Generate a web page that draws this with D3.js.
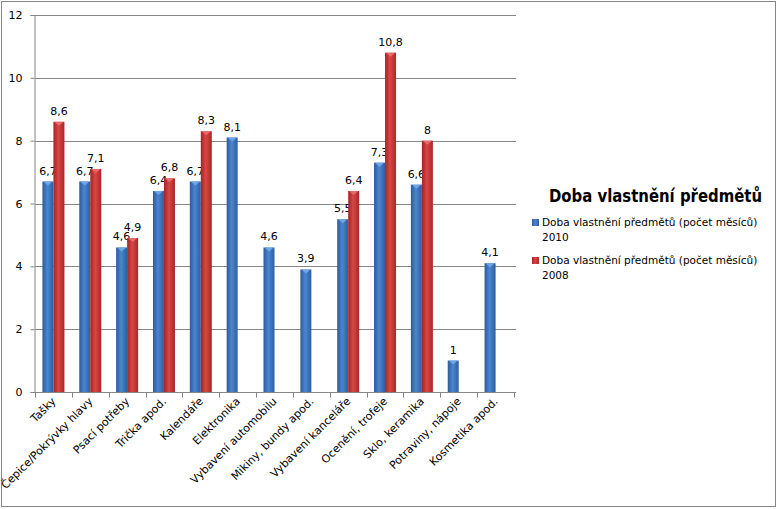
<!DOCTYPE html>
<html>
<head>
<meta charset="utf-8">
<script src="https://cdn.jsdelivr.net/npm/d3@7"></script>
<style>
  body { margin: 0; background: #fff; }
  text { font-family: 'DejaVu Sans', Verdana, sans-serif; }
</style>
</head>
<body>
<div id="chart"></div>
<script>
const categories = ['Tašky', 'Čepice/Pokrývky hlavy', 'Psací potřeby', 'Trička apod.', 'Kalendáře',
  'Elektronika', 'Vybavení automobilu', 'Mikiny, bundy apod.', 'Vybavení kanceláře',
  'Ocenění, trofeje', 'Sklo, keramika', 'Potraviny, nápoje', 'Kosmetika apod.'];
const values2010 = [6.7, 6.7, 4.6, 6.4, 6.7, 8.1, 4.6, 3.9, 5.5, 7.3, 6.6, 1, 4.1];
const values2008 = [8.6, 7.1, 4.9, 6.8, 8.3, null, null, null, 6.4, 10.8, 8, null, null];
const seriesNames = ['Doba vlastnění předmětů (počet měsíců) 2010', 'Doba vlastnění předmětů (počet měsíců) 2008'];
const yTicks = [0, 2, 4, 6, 8, 10, 12];
const legendTitle = 'Doba vlastnění předmětů';

const W = 778, H = 509;
const margin = { top: 15, left: 35, right: 264, bottom: 117 };
const width = W - margin.left - margin.right;
const height = H - margin.top - margin.bottom;

const $svg = d3.select('#chart').append('svg')
  .attr('width', W)
  .attr('height', H);

const defs = $svg.append('defs');
function grad(id, dark, mid, light) {
  const g = defs.append('linearGradient').attr('id', id)
    .attr('x1', 0).attr('x2', 1).attr('y1', 0).attr('y2', 0);
  g.append('stop').attr('offset', '0%').attr('stop-color', dark);
  g.append('stop').attr('offset', '45%').attr('stop-color', light);
  g.append('stop').attr('offset', '100%').attr('stop-color', mid);
}
grad('g2010', '#2d5a9c', '#2f5e9f', '#4a86d0');
grad('g2008', '#a52424', '#a82828', '#d94646');

$svg.append('rect')
  .attr('x', 1.5).attr('y', 1.5)
  .attr('width', W - 4).attr('height', H - 4)
  .attr('fill', '#fff')
  .attr('stroke', '#868686');

const $plot = $svg.append('g')
  .attr('transform', `translate(${margin.left}, ${margin.top})`);

const x = d3.scaleBand().domain(categories).range([0, width]);
const y = d3.scaleLinear().domain([0, 12]).range([height, 0]);

const barW = 11;
const offset = (x.bandwidth() - 2 * barW) / 2;

// grid
$plot.append('g')
  .selectAll('line')
  .data(yTicks.filter(d => d > 0))
  .enter().append('line')
  .attr('x1', 0).attr('x2', width + 2)
  .attr('y1', d => Math.round(y(d)) + 0.5)
  .attr('y2', d => Math.round(y(d)) + 0.5)
  .attr('stroke', '#868686');

// y axis
const yAxis = d3.axisLeft(y).tickValues(yTicks).tickSize(4).tickPadding(8);
$plot.append('g')
  .attr('class', 'axis y')
  .attr('transform', 'translate(-0.5, 0)')
  .call(yAxis)
  .call(g => g.selectAll('.tick text').attr('font-size', 11).attr('fill', '#000')
    .attr('font-family', 'DejaVu Sans'))
  .call(g => g.selectAll('line, path').attr('stroke', '#868686'));

// x axis
const xAxis = d3.axisBottom(x).tickSize(0).tickFormat('');
const $xa = $plot.append('g')
  .attr('class', 'axis x')
  .attr('transform', `translate(0, ${Math.round(height) + 0.5})`)
  .call(xAxis);
$xa.select('.domain').attr('stroke', '#868686').attr('d', `M-4,0H${width + 2}`);
$xa.selectAll('.boundary')
  .data(d3.range(categories.length + 1))
  .enter().append('line')
  .attr('x1', i => Math.round(i * x.step()) + 0.5)
  .attr('x2', i => Math.round(i * x.step()) + 0.5)
  .attr('y1', 0).attr('y2', 5)
  .attr('stroke', '#868686');

$plot.append('g')
  .selectAll('text')
  .data(categories)
  .enter().append('text')
  .attr('transform', d => `translate(${x(d) + x.bandwidth() / 2 + 3}, ${height + 10}) rotate(-45)`)
  .attr('text-anchor', 'end')
  .attr('font-size', 11)
  .attr('fill', '#000')
  .text(d => d);

// bars
const series = [
  { key: '2010', values: values2010, fill: 'url(#g2010)', cap: '#6fa6e6', idx: 0 },
  { key: '2008', values: values2008, fill: 'url(#g2008)', cap: '#ea6b6b', idx: 1 }
];

const fmt = v => String(v).replace('.', ',');

series.forEach(s => {
  const data = categories.map((c, i) => ({ c, v: s.values[i] })).filter(d => d.v != null);
  const $g = $plot.append('g').attr('class', 'series-' + s.key);
  const bx = d => x(d.c) + offset + s.idx * barW;

  $g.selectAll('rect')
    .data(data)
    .enter().append('rect')
    .attr('x', bx)
    .attr('y', d => y(d.v))
    .attr('width', barW)
    .attr('height', d => height - y(d.v))
    .attr('fill', s.fill);

  $g.selectAll('path.cap')
    .data(data)
    .enter().append('path')
    .attr('class', 'cap')
    .attr('d', d => `M${bx(d) + 1},${y(d.v)}H${bx(d) + barW - 1}L${bx(d) + barW / 2},${y(d.v) + 4}Z`)
    .attr('fill', s.cap);

  $g.selectAll('text')
    .data(data)
    .enter().append('text')
    .attr('x', d => bx(d) + barW / 2)
    .attr('y', d => y(d.v) - 7)
    .attr('text-anchor', 'middle')
    .attr('font-size', 11)
    .attr('fill', '#000')
    .text(d => fmt(d.v));
});

// legend
const $legend = $svg.append('g').attr('transform', 'translate(529, 0)');
$legend.append('text')
  .attr('x', 20).attr('y', 202)
  .attr('font-family', 'Lato')
  .attr('font-weight', 'bold')
  .attr('font-size', 17)
  .attr('textLength', 213)
  .attr('lengthAdjust', 'spacingAndGlyphs')
  .attr('fill', '#000')
  .text(legendTitle);

const legendItems = $legend.selectAll('.item')
  .data(series)
  .enter().append('g')
  .attr('class', 'item')
  .attr('transform', (d, i) => `translate(0, ${226 + i * 38})`);

legendItems.append('rect')
  .attr('x', 3).attr('y', -7)
  .attr('width', 7).attr('height', 7)
  .attr('fill', d => d.fill);

legendItems.append('text')
  .attr('x', 13).attr('y', 0)
  .attr('font-size', 10.5)
  .attr('fill', '#000')
  .text(d => seriesNames[d.idx].slice(0, -5));

legendItems.append('text')
  .attr('x', 13).attr('y', 15)
  .attr('font-size', 10.5)
  .attr('fill', '#000')
  .text(d => d.key);
</script>
</body>
</html>
